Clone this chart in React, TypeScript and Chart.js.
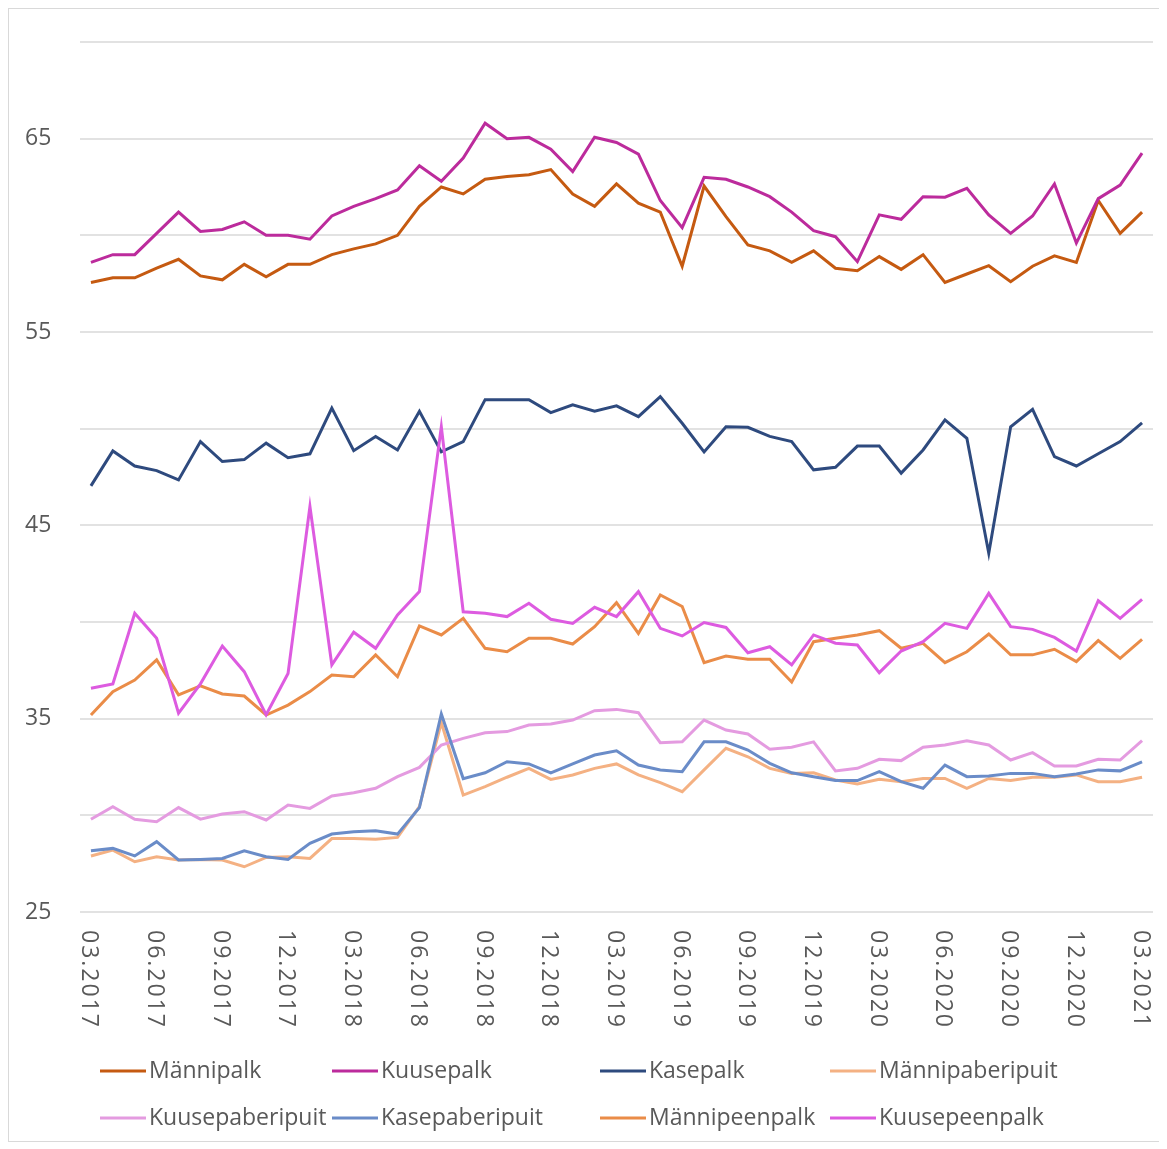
import React, { useEffect, useRef } from "react";
import { Chart, registerables } from "chart.js";

Chart.register(...registerables);

const months = [
  "03.2017", "04.2017", "05.2017", "06.2017", "07.2017", "08.2017", "09.2017", "10.2017", "11.2017", "12.2017",
  "01.2018", "02.2018", "03.2018", "04.2018", "05.2018", "06.2018", "07.2018", "08.2018", "09.2018", "10.2018",
  "11.2018", "12.2018", "01.2019", "02.2019", "03.2019", "04.2019", "05.2019", "06.2019", "07.2019", "08.2019",
  "09.2019", "10.2019", "11.2019", "12.2019", "01.2020", "02.2020", "03.2020", "04.2020", "05.2020", "06.2020",
  "07.2020", "08.2020", "09.2020", "10.2020", "11.2020", "12.2020", "01.2021", "02.2021", "03.2021",
];

const seriesNames = [
  "Männipalk", "Kuusepalk", "Kasepalk", "Männipaberipuit",
  "Kuusepaberipuit", "Kasepaberipuit", "Männipeenpalk", "Kuusepeenpalk",
];

const manniPalk = [57.56, 57.8, 57.8, 58.3, 58.76, 57.9, 57.7, 58.5, 57.86, 58.5, 58.5, 59.0, 59.3, 59.56, 60.0, 61.5, 62.5, 62.14, 62.9, 63.04, 63.13, 63.4, 62.14, 61.5, 62.66, 61.66, 61.2, 58.4, 62.55, 60.97, 59.5, 59.2, 58.6, 59.2, 58.3, 58.17, 58.9, 58.24, 59.0, 57.56, 58.0, 58.43, 57.6, 58.4, 58.94, 58.6, 61.8, 60.1, 61.2];
const kuusePalk = [58.6, 59.0, 59.0, 60.1, 61.2, 60.2, 60.3, 60.7, 60.0, 60.0, 59.8, 61.0, 61.5, 61.9, 62.35, 63.6, 62.8, 64.0, 65.8, 65.0, 65.07, 64.45, 63.3, 65.07, 64.8, 64.2, 61.8, 60.4, 63.0, 62.9, 62.5, 62.0, 61.2, 60.24, 59.93, 58.64, 61.06, 60.83, 62.0, 61.97, 62.43, 61.06, 60.1, 61.0, 62.66, 59.6, 61.9, 62.6, 64.25];
const kasePalk = [47.04, 48.85, 48.07, 47.83, 47.35, 49.33, 48.3, 48.4, 49.25, 48.5, 48.7, 51.06, 48.86, 49.59, 48.9, 50.9, 48.8, 49.33, 51.5, 51.5, 51.5, 50.83, 51.23, 50.9, 51.18, 50.62, 51.66, 50.28, 48.8, 50.1, 50.07, 49.6, 49.33, 47.87, 48.0, 49.1, 49.1, 47.7, 48.9, 50.45, 49.5, 43.56, 50.1, 51.0, 48.55, 48.07, 48.7, 49.33, 50.3];
const manniPaberipuit = [27.9, 28.2, 27.6, 27.86, 27.69, 27.72, 27.69, 27.34, 27.82, 27.86, 27.77, 28.8, 28.8, 28.76, 28.86, 30.45, 34.8, 31.05, 31.48, 31.97, 32.43, 31.86, 32.09, 32.43, 32.66, 32.09, 31.69, 31.22, 32.35, 33.47, 33.03, 32.43, 32.17, 32.2, 31.83, 31.62, 31.86, 31.74, 31.91, 31.91, 31.4, 31.91, 31.8, 31.97, 31.97, 32.09, 31.74, 31.74, 31.97];
const kuusePaberipuit = [29.8, 30.45, 29.8, 29.67, 30.4, 29.8, 30.07, 30.19, 29.76, 30.53, 30.36, 31.0, 31.17, 31.4, 32.0, 32.48, 33.64, 33.98, 34.27, 34.33, 34.67, 34.72, 34.93, 35.41, 35.48, 35.31, 33.76, 33.8, 34.93, 34.41, 34.21, 33.42, 33.52, 33.8, 32.3, 32.43, 32.9, 32.83, 33.52, 33.64, 33.86, 33.64, 32.86, 33.24, 32.55, 32.55, 32.9, 32.86, 33.86];
const kasePaberipuit = [28.17, 28.29, 27.9, 28.64, 27.69, 27.72, 27.77, 28.17, 27.86, 27.72, 28.55, 29.03, 29.15, 29.2, 29.03, 30.4, 35.24, 31.9, 32.2, 32.77, 32.66, 32.2, 32.66, 33.12, 33.34, 32.6, 32.35, 32.26, 33.8, 33.8, 33.38, 32.69, 32.2, 32.0, 31.8, 31.8, 32.26, 31.74, 31.4, 32.6, 32.0, 32.04, 32.17, 32.17, 32.0, 32.14, 32.35, 32.3, 32.77];
const manniPeenpalk = [35.19, 36.4, 37.0, 38.04, 36.23, 36.7, 36.28, 36.17, 35.19, 35.7, 36.4, 37.26, 37.17, 38.3, 37.17, 39.8, 39.33, 40.19, 38.64, 38.46, 39.16, 39.16, 38.86, 39.76, 41.0, 39.41, 41.4, 40.8, 37.9, 38.24, 38.07, 38.07, 36.9, 38.98, 39.16, 39.33, 39.55, 38.64, 38.9, 37.9, 38.46, 39.38, 38.3, 38.3, 38.59, 37.95, 39.04, 38.12, 39.1];
const kuusePeenpalk = [36.57, 36.8, 40.45, 39.16, 35.28, 36.8, 38.76, 37.43, 35.2, 37.34, 45.97, 37.78, 39.47, 38.64, 40.36, 41.57, 50.1, 40.53, 40.45, 40.28, 40.97, 40.14, 39.93, 40.76, 40.28, 41.57, 39.67, 39.28, 39.97, 39.72, 38.41, 38.72, 37.78, 39.33, 38.9, 38.81, 37.38, 38.5, 38.98, 39.93, 39.67, 41.48, 39.76, 39.62, 39.2, 38.5, 41.1, 40.19, 41.17];

const seriesValues = [manniPalk, kuusePalk, kasePalk, manniPaberipuit, kuusePaberipuit, kasePaberipuit, manniPeenpalk, kuusePeenpalk];
const seriesColors = ["#C55A11", "#BC2B9C", "#2E4A7E", "#F4B183", "#E49BE0", "#6A8CC8", "#EA8C48", "#DD5BE0"];

const yMin = 25;
const yMax = 70;
const yStep = 5;
const yLabelEvery = 10;
const xLabelEvery = 3;

const FONT = '"Open Sans", "DejaVu Sans", sans-serif';
const TEXT_COLOR = "#595959";

const xLabelPlugin = {
  id: "xLabelsCw",
  afterDraw(chart: any) {
    const ctx = chart.ctx;
    const xs = chart.scales.x;
    ctx.save();
    ctx.font = `23px ${FONT}`;
    ctx.fillStyle = TEXT_COLOR;
    try { (ctx as any).letterSpacing = "2px"; } catch (e) {}
    months.forEach((lab, i) => {
      if (i % xLabelEvery !== 0) return;
      const x = xs.getPixelForValue(i);
      ctx.save();
      ctx.translate(x - 2, chart.chartArea.bottom + 18);
      ctx.rotate(Math.PI / 2);
      ctx.textAlign = "left";
      ctx.textBaseline = "middle";
      ctx.fillText(lab, 0, 0);
      ctx.restore();
    });
    ctx.restore();
  },
};

const legendColumns = [91, 323, 591, 821];
const legendRows = [1062, 1109];

const legendPlugin = {
  id: "gridLegend",
  afterDraw(chart: any) {
    const ctx = chart.ctx;
    ctx.save();
    ctx.font = `23px ${FONT}`;
    ctx.textAlign = "left";
    ctx.textBaseline = "middle";
    chart.data.datasets.forEach((ds: any, i: number) => {
      const col = i % 4;
      const row = Math.floor(i / 4);
      const x = legendColumns[col];
      const y = legendRows[row];
      ctx.strokeStyle = ds.borderColor;
      ctx.lineWidth = 3;
      ctx.beginPath();
      ctx.moveTo(x, y);
      ctx.lineTo(x + 46, y);
      ctx.stroke();
      ctx.fillStyle = TEXT_COLOR;
      ctx.fillText(ds.label, x + 49, y);
    });
    ctx.restore();
  },
};

export default function App() {
  const canvasRef = useRef<HTMLCanvasElement | null>(null);

  useEffect(() => {
    if (!canvasRef.current) return;
    const chart = new Chart(canvasRef.current, {
      type: "line",
      data: {
        labels: months,
        datasets: seriesNames.map((name, i) => ({
          label: name,
          data: seriesValues[i],
          borderColor: seriesColors[i],
          backgroundColor: seriesColors[i],
          borderWidth: 3,
          pointRadius: 0,
          tension: 0,
          fill: false,
          order: seriesNames.length - i,
        })),
      },
      options: {
        animation: false,
        responsive: true,
        maintainAspectRatio: false,
        layout: { padding: { top: 33, right: 7, bottom: 120, left: 16 } },
        plugins: {
          legend: { display: false },
          tooltip: { enabled: false },
        },
        scales: {
          x: {
            type: "category",
            offset: true,
            grid: { display: false },
            border: { display: false },
            ticks: { display: false },
            afterFit: (s: any) => { s.height = 109; },
          },
          y: {
            min: yMin,
            max: yMax,
            grid: { color: "#e2e2e2", lineWidth: 2, drawTicks: false },
            border: { display: false },
            ticks: {
              stepSize: yStep,
              padding: 4,
              crossAlign: "far",
              color: TEXT_COLOR,
              font: { family: FONT, size: 23 },
              callback: (v: any) => ((v - yMin) % yLabelEvery === 0 && v < yMax ? String(v) : ""),
            },
            afterFit: (s: any) => { s.width = 55; },
          },
        },
      },
      plugins: [xLabelPlugin, legendPlugin],
    });
    return () => chart.destroy();
  }, []);

  return (
    <div style={{ width: 1151, height: 1132, border: "1px solid #d9d9d9", position: "relative", background: "#fff" }}>
      <canvas ref={canvasRef} />
    </div>
  );
}
